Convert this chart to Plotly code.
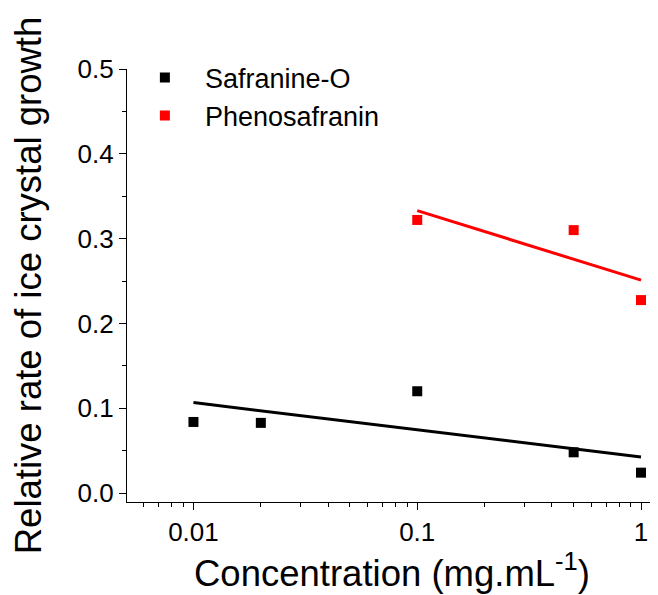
import plotly.graph_objects as go

# Data
saf_x = [0.01, 0.02, 0.1, 0.5, 1.0]
saf_y = [0.0838, 0.0827, 0.120, 0.048, 0.024]
phe_x = [0.1, 0.5, 1.0]
phe_y = [0.322, 0.310, 0.2275]

# Linear fit lines
saf_fit_x = [0.01, 1.0]
saf_fit_y = [0.1067, 0.0425]
phe_fit_x = [0.1, 1.0]
phe_fit_y = [0.333, 0.251]

x_tickvals = [0.01, 0.1, 1]
x_ticktext = ["0.01", "0.1", "1"]
y_tickvals = [0.0, 0.1, 0.2, 0.3, 0.4, 0.5]

FONT = "Arial, Liberation Sans, sans-serif"

fig = go.Figure()
fig.add_trace(go.Scatter(x=saf_fit_x, y=saf_fit_y, mode="lines",
                         line=dict(color="black", width=3), showlegend=False))
fig.add_trace(go.Scatter(x=phe_fit_x, y=phe_fit_y, mode="lines",
                         line=dict(color="#ff0000", width=3), showlegend=False))
fig.add_trace(go.Scatter(x=saf_x, y=saf_y, mode="markers", name="Safranine-O",
                         marker=dict(symbol="square", size=10, color="black")))
fig.add_trace(go.Scatter(x=phe_x, y=phe_y, mode="markers", name="Phenosafranin",
                         marker=dict(symbol="square", size=10, color="#ff0000")))

# page body has an 8px margin, so the figure is 8px smaller than the window
fig.update_layout(
    width=650, height=587,
    margin=dict(l=119, r=1, t=61, b=93),
    plot_bgcolor="white", paper_bgcolor="white",
    font=dict(family=FONT, size=26, color="black"),
    legend=dict(x=-0.004, y=1.036, xanchor="left", yanchor="top",
                font=dict(size=27), itemwidth=70, bgcolor="rgba(0,0,0,0)",
                tracegroupgap=0),
    xaxis=dict(
        type="log", range=[-2.297, 0.0714],
        tickvals=x_tickvals, ticktext=x_ticktext,
        ticks="outside", ticklen=7, tickwidth=1.3, tickcolor="black",
        showline=True, linecolor="black", linewidth=1.3,
        showgrid=False, zeroline=False,
        minor=dict(ticks="outside", ticklen=4, tickwidth=1.3, tickcolor="black",
                   dtick="D1", showgrid=False),
        tickfont=dict(size=26),
        title=dict(text="Concentration (mg.mL<sup>-1</sup>)",
                   font=dict(size=36.5), standoff=13),
    ),
    yaxis=dict(
        range=[-0.0106, 0.5],
        tickvals=y_tickvals, tickformat=".1f",
        ticks="outside", ticklen=7, tickwidth=1.3, tickcolor="black",
        showline=True, linecolor="black", linewidth=1.3,
        showgrid=False, zeroline=False,
        minor=dict(ticks="outside", ticklen=4, tickwidth=1.3, tickcolor="black",
                   dtick=0.05, tick0=0, showgrid=False),
        tickfont=dict(size=26),
        title=dict(text="Relative rate of ice crystal growth",
                   font=dict(size=36.5), standoff=27),
    ),
)

fig.write_html("out.html")
